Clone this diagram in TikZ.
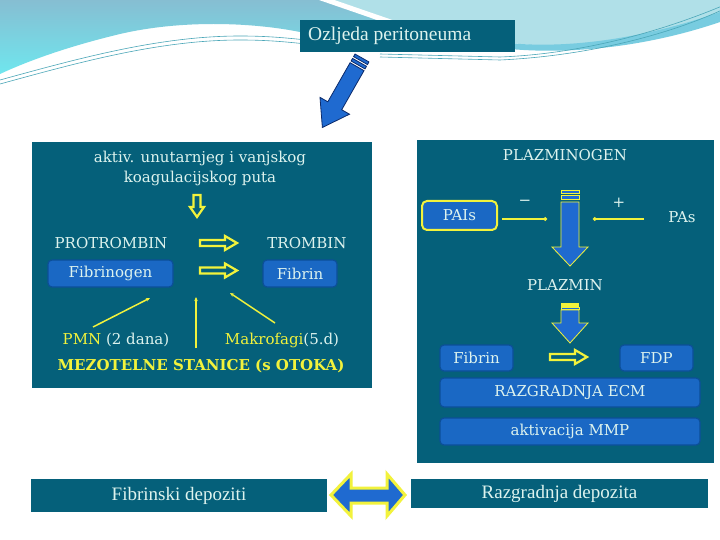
\documentclass[tikz,border=0pt]{standalone}
\usepackage{fontspec}
\setmainfont{DejaVu Serif}
\newfontfamily\libs{Liberation Serif}
\usetikzlibrary{arrows.meta}
\definecolor{panel}{HTML}{05607A}
\definecolor{lcyan}{HTML}{DDF3EE}
\definecolor{yel}{HTML}{F2F23C}
\definecolor{bblue}{HTML}{1A68C4}
\definecolor{bbord}{HTML}{0C4F98}
\definecolor{arrblue}{HTML}{1F6AD0}
\definecolor{navy}{HTML}{0B2A6B}
\definecolor{wtop}{HTML}{86BED2}
\definecolor{wcyan}{HTML}{6FE6EE}
\definecolor{wlight}{HTML}{B0E0E8}
\definecolor{wband}{HTML}{78CCE0}
\definecolor{wline}{HTML}{4AA6B8}
\tikzset{
  panelbox/.style={fill=panel, draw=none, inner sep=0pt},
  txt/.style={text=lcyan, font=\fontsize{15}{20}\selectfont, inner sep=1pt},
  ytxt/.style={text=yel, font=\fontsize{15}{20}\selectfont, inner sep=1pt},
  bbox/.style={fill=bblue, draw=bbord, line width=1.2pt, rounded corners=4pt, text=lcyan,
    font=\fontsize{15}{20}\selectfont, inner sep=0pt},
  ybox/.style={fill=bblue, draw=yel, line width=2pt, rounded corners=5pt, text=lcyan,
    font=\fontsize{15}{20}\selectfont, inner sep=0pt},
  tbox/.style={fill=panel, draw=none, text=lcyan, font=\libs\fontsize{19}{22}\selectfont, inner sep=0pt},
  ystroke/.style={draw=yel, line width=2.2pt, line join=miter},
  yline/.style={draw=yel, line width=1.5pt},
  barrow/.style={fill=arrblue, draw=yel, line width=0.8pt, line join=miter},
  wavel/.style={draw=wline, line width=0.6pt},
  harrowR/.pic={\path[ystroke] (0,-3) -- (25,-3) -- (25,-7) -- (37,0) -- (25,7) -- (25,3) -- (0,3) -- cycle;},
  harrowD/.pic={\path[ystroke] (-3.5,0) -- (-3.5,12) -- (-7,12) -- (0,22) -- (7,12) -- (3.5,12) -- (3.5,0) -- cycle;}
}
\begin{document}
\begin{tikzpicture}[x=1pt,y=-1pt]
\useasboundingbox (0,0) rectangle (720,540);
\fill[white] (0,0) rectangle (720,540);
% ---- decorative waves ----
\shade[top color=wtop, bottom color=wcyan] (0,0) -- (330,0) -- (400,30) -- (300,32)
  .. controls (250,22) and (180,20) .. (120,34) .. controls (70,46) and (30,60) .. (0,74) -- cycle;
\fill[wlight] (330,0) -- (720,0) -- (720,15) .. controls (670,32) and (620,48) .. (560,47)
  .. controls (540,46) and (520,44) .. (500,42) -- (400,30) -- cycle;
\fill[wband] (500,42) .. controls (560,50) and (640,40) .. (720,12) -- (720,22)
  .. controls (650,46) and (570,56) .. (500,48) -- cycle;
\draw[white, line width=5pt] (318,-3) -- (405,27);
\draw[wavel] (0,84) .. controls (80,62) and (160,40) .. (240,40) .. controls (280,40) and (300,44) .. (330,46);
\draw[wavel] (0,80) .. controls (80,58) and (160,36) .. (240,36) .. controls (280,36) and (300,40) .. (330,42);
\draw[wavel] (380,54) -- (500,57) .. controls (580,54) and (660,32) .. (722,6);
\draw[wavel] (380,57) -- (500,60) .. controls (585,56) and (665,36) .. (722,10);
% ---- top box and arrow ----
\node[tbox, minimum width=215pt, minimum height=32pt] (oz) at (407.5,36) {};
\node[text=lcyan, font=\libs\fontsize{19.5}{22}\selectfont, anchor=west, inner sep=0pt] (oztxt) at (308,36) {Ozljeda peritoneuma};
\begin{scope}[shift={(362,58)}, rotate=240.3]
  \draw[fill=arrblue, draw=navy, line width=0.8pt] (0,-8) rectangle (3,8);
  \draw[fill=arrblue, draw=navy, line width=0.8pt] (5,-8) rectangle (8,8);
  \draw[fill=arrblue, draw=navy, line width=0.8pt, line join=miter]
    (10,-8) -- (55,-8) -- (55,-17) -- (80,0) -- (55,17) -- (55,8) -- (10,8) -- cycle;
\end{scope}
% ---- left panel ----
\node[panelbox, minimum width=340pt, minimum height=246pt] (lp) at (202,265) {};
\node[txt, align=center] (akt) at (200,168) {aktiv. unutarnjeg i vanjskog\\koagulacijskog puta};
\pic at (197,195) {harrowD};
\node[txt] (protr) at (111,243) {PROTROMBIN};
\node[txt] (tromb) at (307,243) {TROMBIN};
\pic at (200,243) {harrowR};
\pic at (200,270.5) {harrowR};
\node[bbox, minimum width=125pt, minimum height=27pt] (fibg) at (110.5,273.5) {Fibrinogen};
\node[bbox, minimum width=74pt, minimum height=27pt] (fibn) at (300,273.5) {Fibrin};
\node[txt] (pmn) at (116,340) {\textcolor{yel}{PMN} (\oldstylenums{2} dana)};
\node[txt] (makro) at (282,340) {\textcolor{yel}{Makrofagi}(\oldstylenums{5}.d)};
\node[ytxt, font=\fontsize{15}{18}\selectfont\bfseries] (mezo) at (201,366) {MEZOTELNE STANICE (s OTOKA)};
\coordinate (pa) at (93,327);
\coordinate (pb) at (150,298);
\coordinate (va) at (196,348);
\coordinate (vb) at (196,297);
\coordinate (ma) at (275,323);
\coordinate (mb) at (230,293);
\draw[yline, -{Stealth[length=4pt,width=3.5pt]}] (pa) -- (pb);
\draw[yline, -{Stealth[length=4pt,width=3.5pt]}] (va) -- (vb);
\draw[yline, -{Stealth[length=4pt,width=3.5pt]}] (ma) -- (mb);
% ---- right panel ----
\node[panelbox, minimum width=297pt, minimum height=323pt] (rp) at (565.5,301.5) {};
\node[txt] (plg) at (565,155) {PLAZMINOGEN};
\node[ybox, minimum width=75pt, minimum height=29pt] (pais) at (459.5,215.5) {PAIs};
\node[txt] (pas) at (682,217) {PAs};
\node[txt] (minus) at (525,203) {−};
\node[txt] (plus) at (619,203) {+};
\coordinate (m1) at (547,219);
\coordinate (m2) at (593,219);
\coordinate (pasl) at (644,219);
\draw[yline, shorten <=4pt, -{Circle[length=3.5pt]}] (pais.east |- m1) -- (m1);
\draw[yline, -{Circle[length=3.5pt]}] (pasl) -- (m2);
\draw[barrow] (561,190) rectangle (579,193);
\draw[barrow] (561,195.5) rectangle (579,199);
\draw[barrow] (561,202) -- (561,247) -- (552,247) -- (570,266) -- (588,247) -- (579,247) -- (579,202) -- cycle;
\node[txt] (plz) at (565,285) {PLAZMIN};
\fill[yel] (561,303) rectangle (579,306.5);
\draw[barrow] (561,307.5) rectangle (579,309);
\draw[barrow] (561,310) -- (561,323) -- (552,323) -- (570,343) -- (588,323) -- (579,323) -- (579,310) -- cycle;
\pic at (550,357) {harrowR};
\node[bbox, minimum width=73pt, minimum height=26pt] (fib2) at (476.5,358) {Fibrin};
\node[bbox, minimum width=73pt, minimum height=26pt] (fdp) at (656.5,358) {FDP};
\node[bbox, minimum width=260pt, minimum height=29pt] (ecm) at (570,392.5) {RAZGRADNJA ECM};
\node[bbox, minimum width=260pt, minimum height=27pt] (mmp) at (570,431.5) {aktivacija MMP};
% ---- bottom ----
\node[tbox, minimum width=296pt, minimum height=33pt] (fd) at (179,495.5) {Fibrinski depoziti};
\node[tbox, minimum width=297pt, minimum height=29pt] (rd) at (559.5,493.5) {Razgradnja depozita};
\draw[fill=arrblue, draw=yel, line width=3pt, line join=miter]
  (331,495) -- (351,474) -- (351,488) -- (387,488) -- (387,474) -- (405,495)
  -- (387,516) -- (387,503) -- (351,503) -- (351,516) -- cycle;
\end{tikzpicture}
\end{document}
